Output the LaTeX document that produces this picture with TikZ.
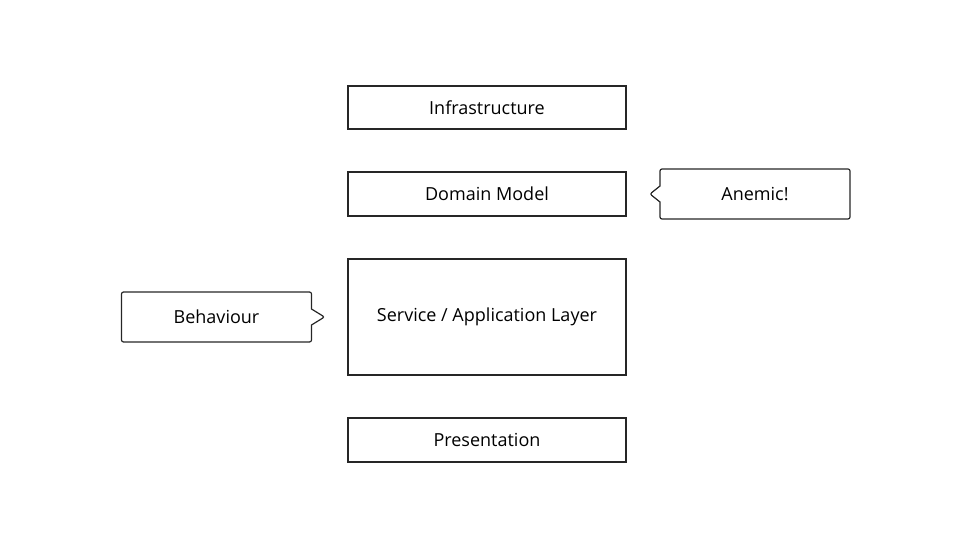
\documentclass[tikz,border=0pt]{standalone}
\usepackage{fontspec}
\setmainfont{Open Sans}
\usetikzlibrary{shapes.callouts}

\tikzset{
    layer/.style = {draw=black!85, line width=1.2pt, minimum width=278pt, inner sep=0pt, font=\fontsize{18}{21}\selectfont},
    note/.style = {rectangle callout, draw=black!85, line width=1.2pt, rounded corners=2pt, minimum width=190pt, minimum height=50pt, inner sep=0pt, callout pointer width=16pt, font=\fontsize{18}{21}\selectfont}
}

\begin{document}
\begin{tikzpicture}[x=1pt, y=-1pt]
                \useasboundingbox (0,0) rectangle (975,548);
                \node[layer, minimum height=43pt] (infra) at (487, 107.5) {Infrastructure};
                \node[layer, minimum height=44pt] (domain) at (487, 194) {Domain Model};
                \node[layer, minimum height=116pt] (service) at (487, 317) {Service / Application Layer};
                \node[layer, minimum height=44pt] (present) at (487, 440) {Presentation};
                \node[note, callout relative pointer={(-10pt,0pt)}] (anemic) at (755, 194) {Anemic!};
                \node[note, callout relative pointer={(13pt,0pt)}] (behaviour) at (216.5, 317) {Behaviour};
\end{tikzpicture}
\end{document}
